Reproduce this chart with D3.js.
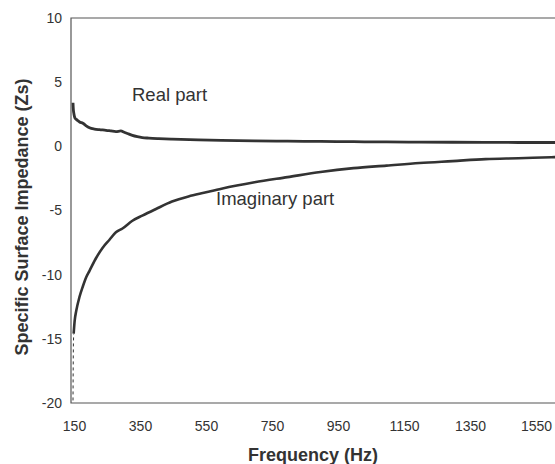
<!DOCTYPE html>
<meta charset="utf-8">
<head>
    <title>Specific Surface Impedance</title>
</head>
<style>
    body { margin: 0; background: #fff; }
    .frame { stroke: #555; stroke-width: 1.2px; fill: none; }
    .tick-label { font-family: "Liberation Sans", Arial, sans-serif; font-size: 14px; fill: #333; }
    .axis-title { font-family: "Liberation Sans", Arial, sans-serif; font-size: 18px; font-weight: bold; fill: #333; }
    .note { font-family: "Liberation Sans", Arial, sans-serif; font-size: 18.5px; fill: #333; }
    .curve { fill: none; stroke: #333; stroke-linejoin: round; }
</style>
<script src="https://d3js.org/d3.v7.min.js"></script>
<div id="chart"></div>
<script>
    // values
    var xTicks = [150, 350, 550, 750, 950, 1150, 1350, 1550];
    var yTicks = [10, 5, 0, -5, -10, -15, -20];

    var realFreq = [150, 151, 153, 156, 160, 165, 170, 180, 190, 200, 215, 230, 250, 265, 280, 295, 305, 315, 330, 345, 360, 380, 410, 450, 530, 600, 700, 800, 900, 1000, 1100, 1200, 1300, 1400, 1500, 1600, 1615];
    var realVal  = [3.4, 2.9, 2.5, 2.2, 2.1, 2.0, 1.9, 1.8, 1.6, 1.45, 1.35, 1.3, 1.25, 1.2, 1.15, 1.2, 1.1, 1.0, 0.85, 0.75, 0.68, 0.64, 0.6, 0.56, 0.5, 0.46, 0.42, 0.4, 0.38, 0.36, 0.34, 0.33, 0.32, 0.31, 0.3, 0.3, 0.3];

    var imagFreq = [152, 155, 160, 170, 180, 190, 200, 220, 240, 260, 280, 300, 330, 360, 400, 450, 500, 550, 600, 700, 800, 900, 1000, 1100, 1200, 1300, 1400, 1500, 1600, 1615];
    var imagVal  = [-14.6, -13.6, -12.8, -11.7, -10.9, -10.2, -9.7, -8.7, -7.9, -7.3, -6.7, -6.4, -5.8, -5.4, -4.9, -4.3, -3.9, -3.6, -3.3, -2.8, -2.4, -2.0, -1.7, -1.5, -1.3, -1.15, -1.0, -0.93, -0.85, -0.84];

    // faint low-frequency tail of the imaginary part
    var tailFreq = [150, 150.4, 150.8, 151.3, 152];
    var tailVal  = [-19.8, -18.0, -16.5, -15.3, -14.6];

    var W = 555, H = 464;
    var svg = d3.select("#chart").append("svg")
        .attr("width", W).attr("height", H);

    var x = d3.scaleLinear().domain([150, 1550]).range([73, 535]);
    var y = d3.scaleLinear().domain([-20, 10]).range([403, 18]);

    // frame: top, left, bottom
    svg.append("path").attr("class", "frame")
        .attr("d", "M" + 556 + "," + y(10) + "H" + 71 + "V" + y(-20) + "H" + 556);

    // tick labels
    svg.selectAll(".ylab").data(yTicks).enter().append("text")
        .attr("class", "tick-label")
        .attr("x", 62).attr("y", function (d) { return y(d); })
        .attr("dy", "0.35em").attr("text-anchor", "end")
        .text(function (d) { return d; });

    svg.selectAll(".xlab").data(xTicks).enter().append("text")
        .attr("class", "tick-label")
        .attr("x", function (d) { return x(d) + 1.5; }).attr("y", 431)
        .attr("text-anchor", "middle")
        .text(function (d) { return d; });

    // axis titles
    svg.append("text").attr("class", "axis-title")
        .attr("transform", "translate(28,217) rotate(-90)")
        .attr("text-anchor", "middle")
        .text("Specific Surface Impedance (Zs)");

    svg.append("text").attr("class", "axis-title")
        .attr("x", 313).attr("y", 461)
        .attr("text-anchor", "middle")
        .text("Frequency (Hz)");

    var line = d3.line()
        .x(function (d) { return x(d[0]); })
        .y(function (d) { return y(d[1]); })
        .curve(d3.curveMonotoneX);

    var realData = d3.zip(realFreq, realVal);
    var imagData = d3.zip(imagFreq, imagVal);
    var tailData = d3.zip(tailFreq, tailVal);

    svg.append("path").attr("class", "curve")
        .attr("d", d3.line().x(function (d) { return x(d[0]); }).y(function (d) { return y(d[1]); })(tailData))
        .attr("stroke-width", 1).attr("stroke", "#777").attr("stroke-dasharray", "3,3");

    svg.append("path").attr("class", "curve")
        .attr("d", line(realData)).attr("stroke-width", 2.8);

    svg.append("path").attr("class", "curve")
        .attr("d", line(imagData)).attr("stroke-width", 2.6);

    // labels on the curves
    svg.append("text").attr("class", "note")
        .attr("x", 132).attr("y", 101).text("Real part");
    svg.append("text").attr("class", "note")
        .attr("x", 216).attr("y", 205).text("Imaginary part");
</script>
